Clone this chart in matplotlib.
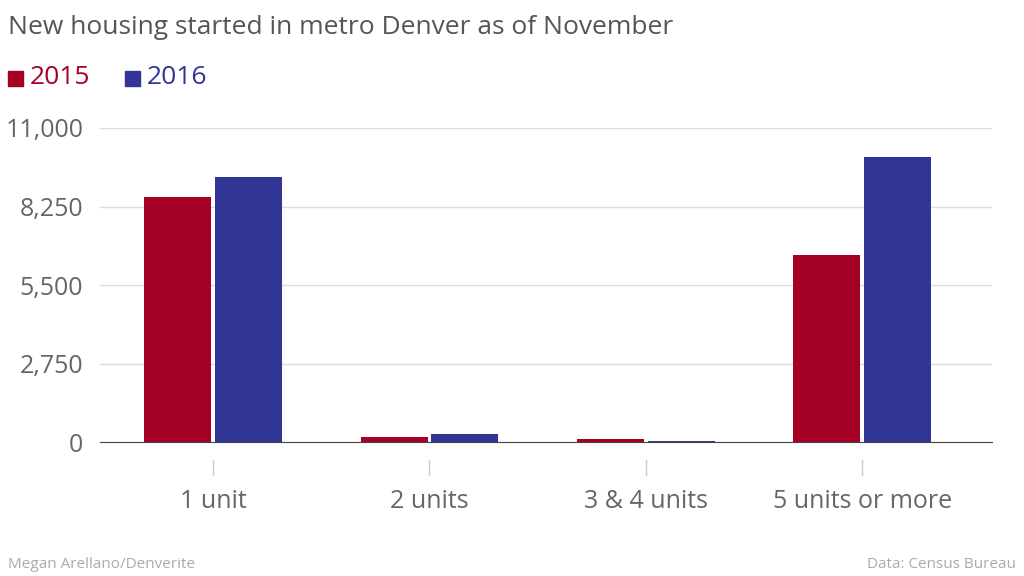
import matplotlib
matplotlib.use("Agg")
import matplotlib.pyplot as plt
import numpy as np
from matplotlib.patches import Rectangle

categories = ["1 unit", "2 units", "3 & 4 units", "5 units or more"]
v2015 = [8600, 175, 105, 6550]
v2016 = [9300, 280, 40, 10000]
yticks = [0, 2750, 5500, 8250, 11000]
ytick_labels = ["0", "2,750", "5,500", "8,250", "11,000"]

c15 = "#a50026"
c16 = "#313695"
txt = "#666666"
font = "Open Sans"

fig = plt.figure(figsize=(10.24, 5.76), dpi=100)
ax = fig.add_axes([100/1024, 1-442/576, 892/1024, 314/576])
x = np.arange(len(categories))
w = 0.31
ax.bar(x - 0.163, v2015, w, color=c15, zorder=3)
ax.bar(x + 0.163, v2016, w, color=c16, zorder=3)
ax.set_xlim(-0.523, 3.60)
ax.set_ylim(0, 11000)
ax.set_yticks(yticks)
ax.set_yticklabels(ytick_labels, fontsize=18, color=txt, fontfamily=font)
ax.yaxis.grid(True, color="#dddddd", linewidth=1, zorder=0)
ax.tick_params(axis="y", length=0, pad=12)
ax.set_xticks([])
for s in ["top", "right", "left"]:
    ax.spines[s].set_visible(False)
ax.spines["bottom"].set_color("#444444")
for i, c in enumerate(categories):
    ax.plot([i, i], [-630, -1150], color="#cccccc", lw=1, clip_on=False)
    ax.text(i, -2100, c, ha="center", va="center", fontsize=18, color=txt, fontfamily=font)

fig.text(8/1024, 1-27/576, "New housing started in metro Denver as of November",
         fontsize=19, color="#555555", fontfamily=font, va="center")
fig.patches.append(Rectangle((8/1024, 1-86/576), 15/1024, 15/576, color=c15, transform=fig.transFigure))
fig.text(30/1024, 1-78/576, "2015", fontsize=19, color=c15, fontfamily=font, va="center")
fig.patches.append(Rectangle((125/1024, 1-86/576), 15/1024, 15/576, color=c16, transform=fig.transFigure))
fig.text(147/1024, 1-78/576, "2016", fontsize=19, color=c16, fontfamily=font, va="center")
fig.text(8/1024, 1-565/576, "Megan Arellano/Denverite", fontsize=11, color="#aaaaaa", fontfamily=font, va="center")
fig.text(1016/1024, 1-565/576, "Data: Census Bureau", fontsize=11, color="#aaaaaa", fontfamily=font, va="center", ha="right")
fig.savefig("out.png", dpi=100)
